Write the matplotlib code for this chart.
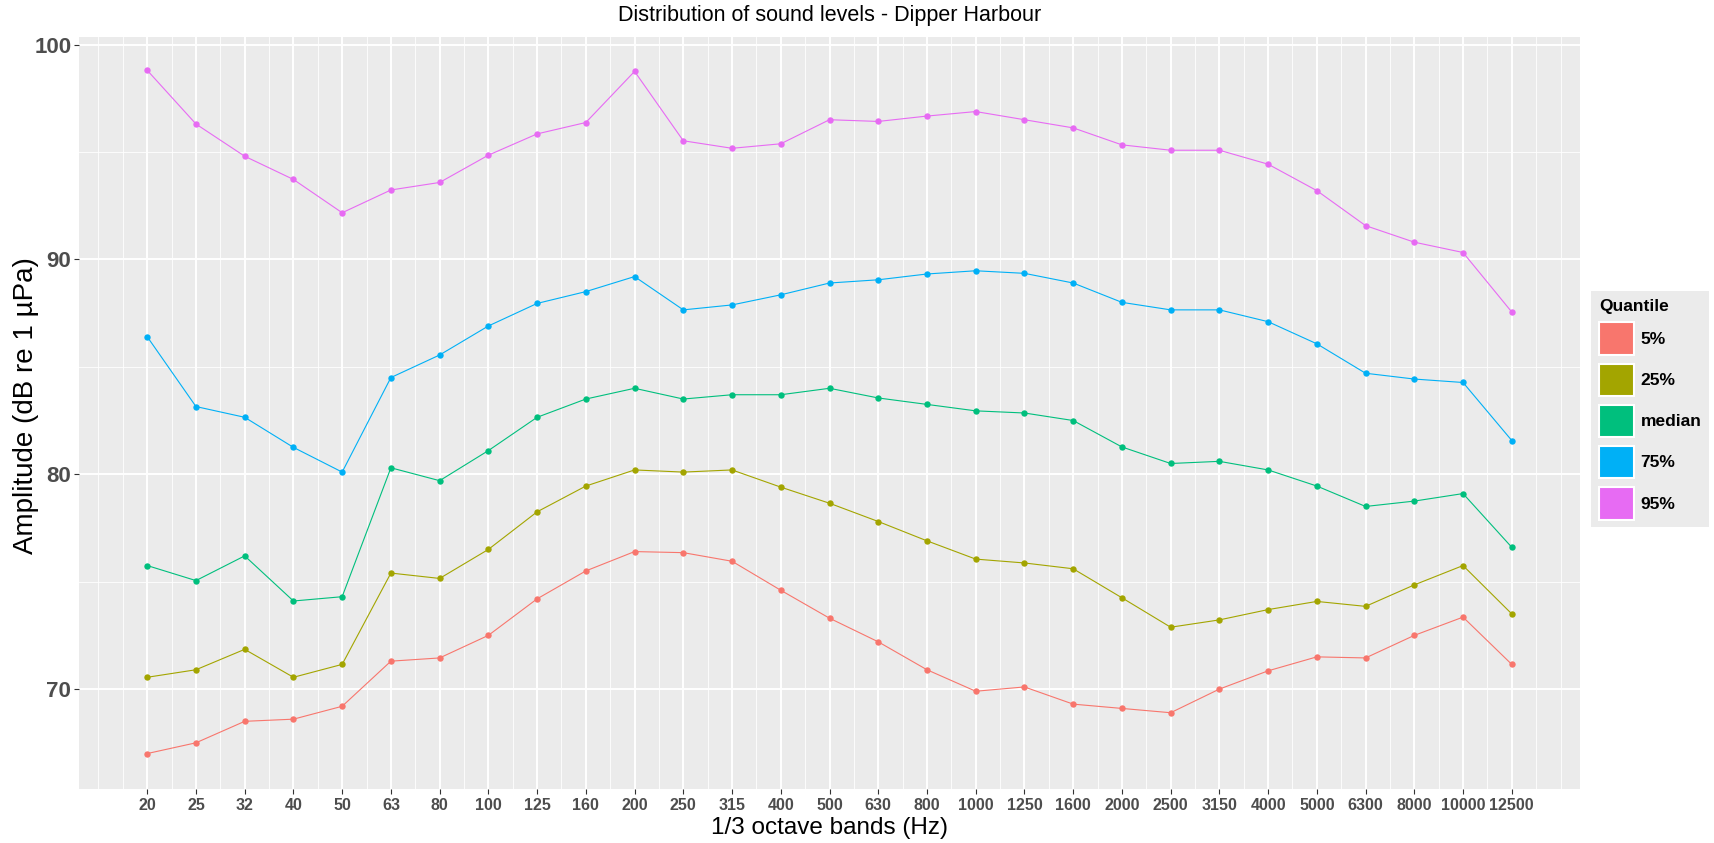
import numpy as np
import matplotlib
matplotlib.use("Agg")
import matplotlib.pyplot as plt
from matplotlib.patches import Patch
from matplotlib.ticker import FixedLocator

plt.rcParams['font.family'] = ['Liberation Sans', 'DejaVu Sans']

# 1/3 octave band centre frequencies (Hz)
bands = ["20", "25", "32", "40", "50", "63", "80", "100", "125", "160",
         "200", "250", "315", "400", "500", "630", "800", "1000", "1250", "1600",
         "2000", "2500", "3150", "4000", "5000", "6300", "8000", "10000", "12500"]

# sound level quantiles per band, dB re 1 uPa
q05 = [67.0, 67.5, 68.5, 68.6, 69.2, 71.3, 71.45, 72.5, 74.2, 75.5,
       76.4, 76.35, 75.95, 74.6, 73.3, 72.2, 70.9, 69.9, 70.1, 69.3,
       69.1, 68.9, 70.0, 70.85, 71.5, 71.45, 72.5, 73.35, 71.15]
q25 = [70.55, 70.9, 71.85, 70.55, 71.15, 75.4, 75.15, 76.5, 78.25, 79.45,
       80.2, 80.1, 80.2, 79.4, 78.65, 77.8, 76.9, 76.05, 75.87, 75.6,
       74.25, 72.88, 73.22, 73.7, 74.08, 73.85, 74.85, 75.75, 73.5]
qmed = [75.75, 75.05, 76.2, 74.1, 74.3, 80.3, 79.7, 81.1, 82.65, 83.5,
        84.0, 83.5, 83.7, 83.7, 84.0, 83.55, 83.25, 82.95, 82.85, 82.5,
        81.27, 80.5, 80.6, 80.2, 79.45, 78.5, 78.75, 79.1, 76.6]
q75 = [86.4, 83.15, 82.65, 81.25, 80.1, 84.5, 85.55, 86.9, 87.95, 88.5,
       89.2, 87.65, 87.88, 88.35, 88.9, 89.05, 89.32, 89.47, 89.35, 88.9,
       88.0, 87.65, 87.65, 87.1, 86.07, 84.7, 84.43, 84.27, 81.57]
q95 = [98.8, 96.3, 94.8, 93.72, 92.17, 93.23, 93.58, 94.85, 95.84, 96.37,
       98.75, 95.52, 95.17, 95.38, 96.5, 96.42, 96.67, 96.88, 96.5, 96.12,
       95.33, 95.08, 95.08, 94.43, 93.2, 91.57, 90.8, 90.32, 87.55]

quantile_names = ["5%", "25%", "median", "75%", "95%"]
series = [q05, q25, qmed, q75, q95]
colors = ["#F8766D", "#A3A500", "#00BF7D", "#00B0F6", "#E76BF3"]

fig = plt.figure(figsize=(17.15, 8.43), dpi=100)
ax = fig.add_axes([79/1715, 1 - 789/843, (1580 - 79)/1715, (789 - 37)/843])
ax.set_facecolor("#EBEBEB")
for s in ax.spines.values():
    s.set_visible(False)

x = np.arange(len(bands))
for vals, col in zip(series, colors):
    ax.plot(x, vals, color=col, lw=0.8, marker="o", ms=4.6, mew=0)

# ggplot-like expansion and grid
n = len(bands) - 1
ax.set_xlim(-0.05*n, n + 0.05*n)
ax.set_ylim(65.35, 100.35)
ax.set_xticks(x)
ax.set_xticklabels(bands)
ax.set_yticks([70, 80, 90, 100])
ax.xaxis.set_minor_locator(FixedLocator(np.concatenate(([-1], np.arange(-0.5, n + 1.0, 1.0), [n + 1]))))
ax.yaxis.set_minor_locator(FixedLocator([75, 85, 95]))
ax.grid(which="major", color="white", lw=1.4)
ax.grid(which="minor", color="white", lw=0.6)
ax.set_axisbelow(True)

ax.tick_params(which="minor", length=0)
ax.tick_params(which="major", length=3.5, width=0.8, color="#333333")
ax.tick_params(axis="x", pad=3)
ax.tick_params(axis="y", pad=2)
for lab in ax.get_xticklabels():
    lab.set_family(['Liberation Sans Narrow', 'Liberation Sans'])
    lab.set_fontweight("bold")
    lab.set_fontsize(11.5)
    lab.set_color("#4D4D4D")
for lab in ax.get_yticklabels():
    lab.set_fontweight("bold")
    lab.set_fontsize(16)
    lab.set_color("#4D4D4D")

ax.set_xlabel("1/3 octave bands (Hz)", fontsize=17.5, va="center")
ax.xaxis.set_label_coords(0.5, -0.052)
ax.set_ylabel("Amplitude (dB re 1 \u00b5Pa)", fontsize=20, va="center")
ax.yaxis.set_label_coords(-0.0353, 0.51)

fig.text(0.484, 1 - 15/843, "Distribution of sound levels - Dipper Harbour",
         fontsize=15.5, ha="center", va="center")

handles = [Patch(facecolor=c, edgecolor="white", lw=1.5) for c in colors]
leg = fig.legend(handles, quantile_names, loc="upper left",
                 bbox_to_anchor=(1591/1715, 1 - 291/843),
                 title="Quantile", fontsize=12.5,
                 prop={"weight": "bold", "size": 12.5},
                 title_fontproperties={"weight": "bold", "size": 12.5},
                 alignment="left", handlelength=2.0, handleheight=2.5,
                 labelspacing=0.5, handletextpad=0.4, borderpad=0.45,
                 borderaxespad=0, frameon=True, fancybox=False,
                 facecolor="#EBEBEB", edgecolor="none", framealpha=1)

fig.savefig("out.png", dpi=100, facecolor="white")
